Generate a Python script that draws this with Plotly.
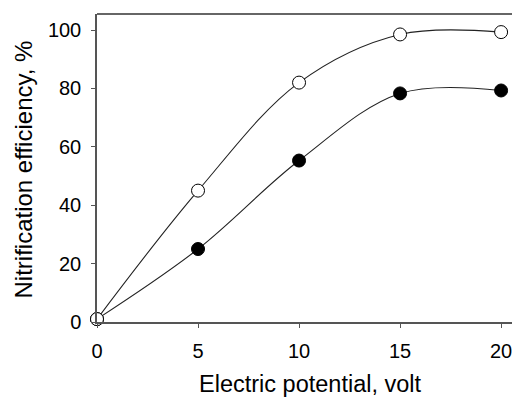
import plotly.graph_objects as go

voltage = [0, 5, 10, 15, 20]
eff_open = [1, 45, 82, 98.5, 99.3]
eff_filled = [1, 25, 55.3, 78.3, 79.3]
x_ticks = [0, 5, 10, 15, 20]
y_ticks = [0, 20, 40, 60, 80, 100]
x_title = "Electric potential, volt"
y_title = "Nitrification efficiency, %"

FONT = "Liberation Sans, Arial, sans-serif"

fig = go.Figure()
fig.add_trace(go.Scatter(
    x=voltage, y=eff_filled, mode="lines+markers",
    line=dict(color="#222222", width=1.1, shape="spline", smoothing=1.0),
    marker=dict(size=13, color="black", line=dict(color="black", width=1)),
    cliponaxis=False, showlegend=False))
fig.add_trace(go.Scatter(
    x=voltage, y=eff_open, mode="lines+markers",
    line=dict(color="#222222", width=1.1, shape="spline", smoothing=1.0),
    marker=dict(size=13, color="white", line=dict(color="black", width=1)),
    cliponaxis=False, showlegend=False))

fig.update_layout(
    width=512, height=399,
    margin=dict(l=97, r=0, t=14, b=77),
    paper_bgcolor="white", plot_bgcolor="white",
    font=dict(family=FONT, color="black"),
    xaxis=dict(range=[0, 20.54], tickvals=x_ticks, ticks="outside", ticklen=4,
               tickcolor="#555", showline=True, linecolor="#555", linewidth=1.5,
               showgrid=False, zeroline=False, tickfont=dict(size=20),
               ticklabelstandoff=6, ticklabeloverflow="allow"),
    yaxis=dict(range=[0, 105.5], tickvals=y_ticks, ticks="outside", ticklen=4,
               tickcolor="#555", showline=True, linecolor="#555", linewidth=1.5,
               showgrid=False, zeroline=False, tickfont=dict(size=20),
               ticklabelstandoff=6),
    shapes=[dict(type="line", xref="paper", yref="paper", x0=0, x1=1, y0=1, y1=1,
                 line=dict(color="#333", width=1.5))],
    annotations=[
        dict(text=x_title, xref="paper", yref="paper", x=(310 - 97) / 415,
             y=-(384 - 322) / 308, xanchor="center", yanchor="middle",
             showarrow=False, font=dict(size=23.5)),
        dict(text=y_title, xref="paper", yref="paper", x=-(97 - 23) / 415,
             y=(322 - 169.5) / 308, xanchor="center", yanchor="middle",
             textangle=-90, showarrow=False, font=dict(size=24)),
    ],
)
fig.write_html("out.html")
